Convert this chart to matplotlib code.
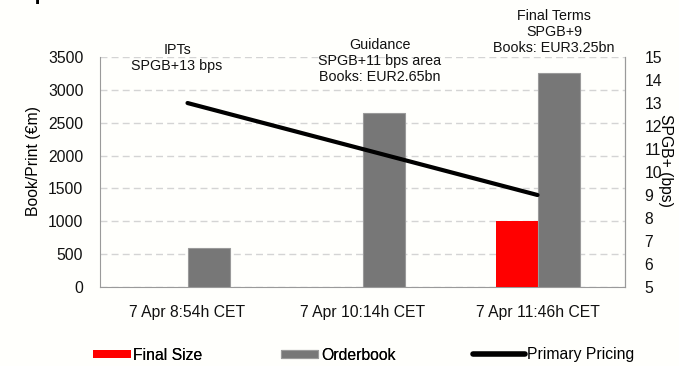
import matplotlib.pyplot as plt
from matplotlib.transforms import blended_transform_factory

# pricing timeline of the deal
times = ["7 Apr 8:54h CET", "7 Apr 10:14h CET", "7 Apr 11:46h CET"]
orderbook = [600, 2650, 3250]          # EUR m
final_size = [None, None, 1000]        # EUR m, only at final terms
spread = [13, 11, 9]                   # SPGB+ bps

notes = ["IPTs\nSPGB+13 bps",
         "Guidance\nSPGB+11 bps area\nBooks: EUR2.65bn",
         "Final Terms\nSPGB+9\nBooks: EUR3.25bn"]

plt.rcParams["font.family"] = ["Liberation Sans", "DejaVu Sans"]

fig = plt.figure(figsize=(6.79, 3.66), dpi=100, facecolor="#fffffc")
ax = fig.add_axes([0.1473, 0.2158, 0.7732, 0.6284])
ax.set_facecolor("#fffffc")

x = list(range(len(times)))
w = 0.24

# bars
fx = [i - w / 2 for i, v in zip(x, final_size) if v is not None]
fv = [v for v in final_size if v is not None]
ax.bar(fx, fv, width=w, color="#ff0000", label="Final Size", zorder=3)
ax.bar([i + w / 2 for i in x], orderbook, width=w, color="#777777",
       edgecolor="#9a9a9a", linewidth=0.8, label="Orderbook", zorder=3)

ax.set_xlim(-0.5, 2.5)
ax.set_ylim(0, 3500)
ax.set_yticks(range(0, 3501, 500))
ax.set_xticks(x)
ax.set_xticklabels(times)
ax.yaxis.grid(True, linestyle=(0, (5, 3)), color="#d4d4d4", linewidth=1, zorder=0)
ax.set_axisbelow(True)
ax.tick_params(axis="both", length=0, labelsize=11.3, colors="#111111")
ax.tick_params(axis="y", pad=12)
ax.tick_params(axis="x", pad=13)
ax.set_ylabel("Book/Print (€m)", fontsize=11.3)
ax.yaxis.set_label_coords(-0.112, 0.548)

for s in ["left", "bottom", "right"]:
    ax.spines[s].set_color("#9a9a9a")
ax.spines["top"].set_visible(False)

# spread line on the right axis
ax2 = ax.twinx()
ax2.plot(x, spread, color="black", linewidth=3, solid_capstyle="round",
         label="Primary Pricing")
ax2.set_ylim(5, 15)
ax2.set_yticks(range(5, 16))
ax2.tick_params(axis="y", length=0, labelsize=11.3, colors="#111111", pad=14)
ax2.set_ylabel("SPGB+ (bps)", fontsize=11.3, rotation=270)
ax2.yaxis.set_label_coords(1.091, 0.552)
for s in ["top", "left", "bottom"]:
    ax2.spines[s].set_visible(False)
ax2.spines["right"].set_color("#9a9a9a")

# notes above each step
tr = blended_transform_factory(ax.transData, fig.transFigure)
note_x = [-0.06, 1.10, 2.094]
note_y = [1 - 58 / 366, 1 - 61 / 366, 1 - 32 / 366]
for nx, ny, txt in zip(note_x, note_y, notes):
    ax.text(nx, ny, txt, transform=tr, ha="center", va="center",
            fontsize=10.3, linespacing=1.15, color="#111111")

# title mostly outside the canvas
fig.text(0.005, 1.0, "7 April 2021", fontsize=15, fontweight="bold",
         va="baseline", ha="left")

# legend: bars and line in two pieces so the line handle can be longer
h1, l1 = ax.get_legend_handles_labels()
h2, l2 = ax2.get_legend_handles_labels()
leg_kw = dict(loc="center left", frameon=False, fontsize=11.3,
              handletextpad=0.15, borderpad=0, borderaxespad=0)
leg1 = fig.legend(h1, l1, bbox_to_anchor=(93 / 679, 11 / 366), ncol=2,
                  handlelength=2.4, handleheight=0.45, columnspacing=5.0,
                  **leg_kw)
leg2 = fig.legend(h2, l2, bbox_to_anchor=(473 / 679, 11 / 366),
                  handlelength=3.3, **leg_kw)
leg2.get_lines()[0].set_linewidth(4)
fig.add_artist(leg1)

fig.savefig("out.png", dpi=100, facecolor=fig.get_facecolor())
